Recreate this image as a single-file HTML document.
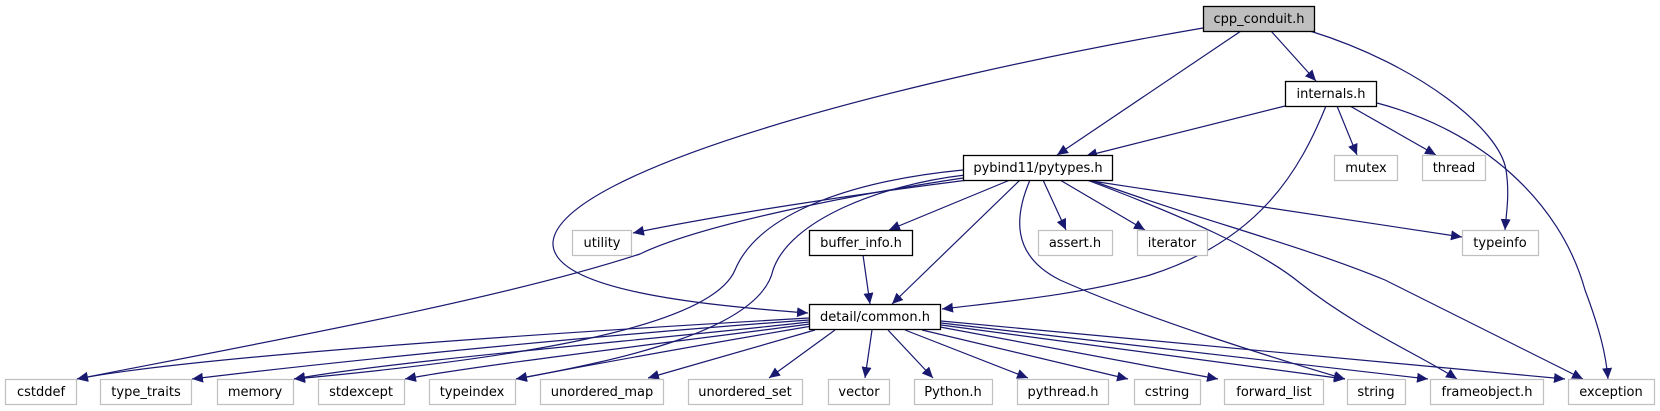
<!DOCTYPE html>
<html><head><meta charset="utf-8"><style>
html,body{margin:0;padding:0;background:#fff;width:1660px;height:411px;overflow:hidden}
svg text{font-family:"DejaVu Sans","Liberation Sans",sans-serif;font-size:13px;fill:#000}
</style></head><body>
<svg width="1660" height="411" viewBox="0 0 1660 411" xmlns="http://www.w3.org/2000/svg">
<defs>
<marker id="a" markerUnits="userSpaceOnUse" markerWidth="12" markerHeight="10" refX="11" refY="5" orient="auto">
<path d="M0,0 L11,5 L0,10 z" fill="#191970"/>
</marker>
</defs>
<g fill="none" stroke="#191970" stroke-width="1.2" marker-end="url(#a)">
<path d="M1203,28 C900,80 560,170 553,242 C550,290 700,305 808,313"/>
<path d="M1241,31 L1057,155"/>
<path d="M1271,31 L1316,81"/>
<path d="M1310,31 C1420,65 1500,130 1506,170 C1510,195 1506,215 1505,230"/>
<path d="M1285,106 L1086,156"/>
<path d="M1326,106 C1300,170 1260,240 1150,275 C1080,295 1000,302 942,309"/>
<path d="M1337,106 L1357,155"/>
<path d="M1350,106 L1436,155"/>
<path d="M1377,103 C1480,130 1560,200 1585,290 C1600,330 1606,355 1608,379"/>
<path d="M968,180 C850,195 720,215 633,233"/>
<path d="M963,178 C850,195 700,225 640,254 C500,300 250,345 77,379"/>
<path d="M963,170 C860,180 760,210 735,270 C710,330 500,360 294,379"/>
<path d="M965,175 C880,185 790,220 773,270 C760,330 620,360 516,379"/>
<path d="M1010,180 L889,230"/>
<path d="M1020,180 L892,304"/>
<path d="M1030,180 C1015,215 1010,255 1060,280 C1150,320 1280,360 1345,379"/>
<path d="M1043,180 L1066,230"/>
<path d="M1060,180 L1145,230"/>
<path d="M1087,180 C1180,215 1260,250 1300,283 C1360,330 1420,355 1457,379"/>
<path d="M1090,180 C1200,220 1300,245 1385,280 L1583,379"/>
<path d="M1085,180 L1462,237"/>
<path d="M863,255 L870,304"/>
<path d="M809,318 C600,330 200,355 77,379"/>
<path d="M809,320 C600,335 350,360 192,379"/>
<path d="M809,322 C650,340 400,360 294,379"/>
<path d="M810,324 C650,345 480,365 405,379"/>
<path d="M812,326 C700,345 590,365 516,379"/>
<path d="M815,330 L648,378"/>
<path d="M835,330 L769,378"/>
<path d="M872,330 L865,378"/>
<path d="M888,330 L933,378"/>
<path d="M905,330 L1028,378"/>
<path d="M922,330 L1128,379"/>
<path d="M940,327 L1218,379"/>
<path d="M941,325 L1345,379"/>
<path d="M941,323 L1428,379"/>
<path d="M941,321 L1565,379"/>
</g>
<g stroke-width="1.3">
<rect x="1203.5" y="6.5" width="111" height="25" fill="#bfbfbf" stroke="#000"/>
<rect x="1285.5" y="81.5" width="91" height="25" fill="#fff" stroke="#000"/>
<rect x="963.5" y="155.5" width="149" height="25" fill="#fff" stroke="#000"/>
<rect x="809.5" y="230.5" width="103" height="25" fill="#fff" stroke="#000"/>
<rect x="809.5" y="304.5" width="131" height="25" fill="#fff" stroke="#000"/>
</g>
<g fill="#fff" stroke="#bfbfbf" stroke-width="1.2">
<rect x="1334.5" y="155.5" width="63" height="25"/>
<rect x="1422.5" y="155.5" width="63" height="25"/>
<rect x="572.5" y="230.5" width="59" height="25"/>
<rect x="1038.5" y="230.5" width="74" height="25"/>
<rect x="1137.5" y="230.5" width="70" height="25"/>
<rect x="1462.5" y="230.5" width="76" height="25"/>
<rect x="5.5" y="379.5" width="71" height="25"/>
<rect x="100.5" y="379.5" width="91" height="25"/>
<rect x="217.5" y="379.5" width="76" height="25"/>
<rect x="318.5" y="379.5" width="86" height="25"/>
<rect x="429.5" y="379.5" width="86" height="25"/>
<rect x="540.5" y="379.5" width="123" height="25"/>
<rect x="688.5" y="379.5" width="114" height="25"/>
<rect x="828.5" y="379.5" width="61" height="25"/>
<rect x="914.5" y="379.5" width="78" height="25"/>
<rect x="1017.5" y="379.5" width="91" height="25"/>
<rect x="1134.5" y="379.5" width="66" height="25"/>
<rect x="1224.5" y="379.5" width="99" height="25"/>
<rect x="1347.5" y="379.5" width="58" height="25"/>
<rect x="1430.5" y="379.5" width="113" height="25"/>
<rect x="1568.5" y="379.5" width="86" height="25"/>
</g>
<g text-anchor="middle">
<text x="1259" y="23">cpp_conduit.h</text>
<text x="1331" y="98">internals.h</text>
<text x="1038" y="172">pybind11/pytypes.h</text>
<text x="1366" y="172">mutex</text>
<text x="1454" y="172">thread</text>
<text x="602" y="247">utility</text>
<text x="861" y="247">buffer_info.h</text>
<text x="1075" y="247">assert.h</text>
<text x="1172" y="247">iterator</text>
<text x="1500" y="247">typeinfo</text>
<text x="875" y="321">detail/common.h</text>
<text x="41" y="396">cstddef</text>
<text x="146" y="396">type_traits</text>
<text x="255" y="396">memory</text>
<text x="361" y="396">stdexcept</text>
<text x="472" y="396">typeindex</text>
<text x="602" y="396">unordered_map</text>
<text x="745" y="396">unordered_set</text>
<text x="859" y="396">vector</text>
<text x="953" y="396">Python.h</text>
<text x="1063" y="396">pythread.h</text>
<text x="1167" y="396">cstring</text>
<text x="1274" y="396">forward_list</text>
<text x="1376" y="396">string</text>
<text x="1487" y="396">frameobject.h</text>
<text x="1611" y="396">exception</text>
</g>
</svg>
</body></html>
